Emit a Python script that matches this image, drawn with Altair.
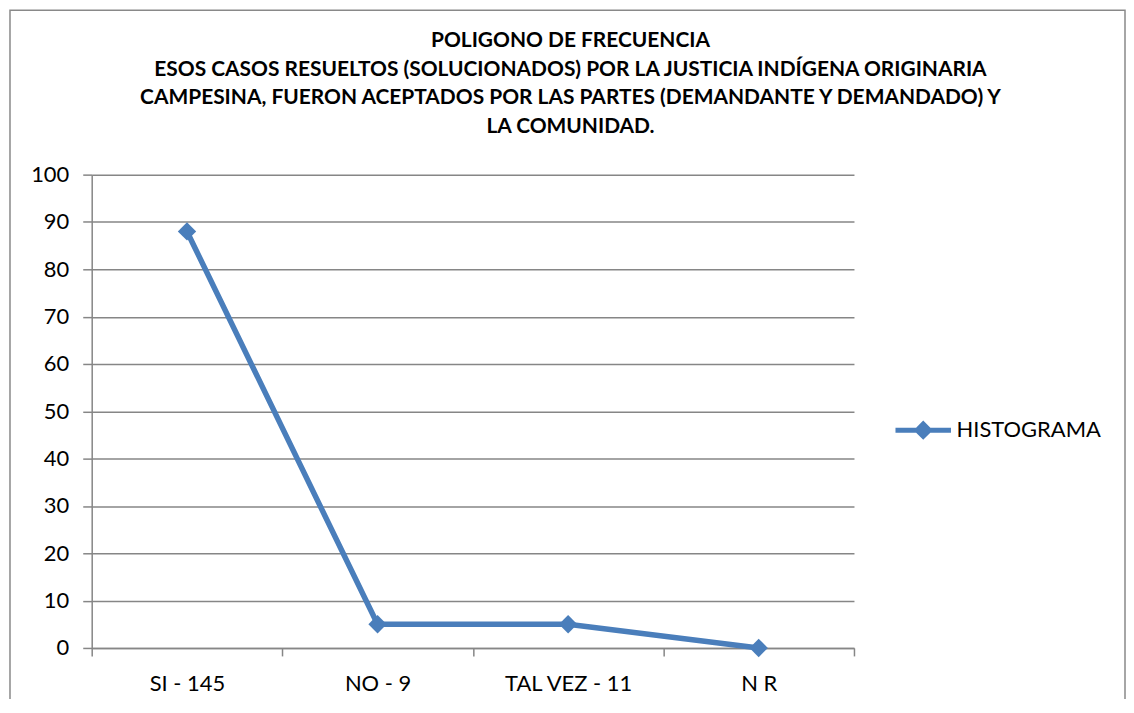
import altair as alt
import pandas as pd

categories = ["SI - 145", "NO - 9", "TAL VEZ - 11", "N R"]
values = [88, 5, 5, 0]
series_name = "HISTOGRAMA"
y_ticks = [0, 10, 20, 30, 40, 50, 60, 70, 80, 90, 100]
title_lines = [
    "POLIGONO DE FRECUENCIA",
    "ESOS CASOS RESUELTOS (SOLUCIONADOS) POR LA JUSTICIA INDÍGENA ORIGINARIA",
    "CAMPESINA, FUERON ACEPTADOS POR LAS PARTES (DEMANDANTE Y DEMANDADO) Y",
    "LA COMUNIDAD.",
]

df = pd.DataFrame({"cat": categories, "val": values, "serie": [series_name] * len(categories)})

FONT = "Lato"
GRAY = "#868686"
BLUE = "#4A7EBB"

legend_symbol = "M-1,0 L1,0 M-0.22,0 L0,-0.22 L0.22,0 L0,0.22 Z"

line = alt.Chart(df).mark_line(
    strokeWidth=5.5,
    point=alt.OverlayMarkDef(shape="diamond", size=340, filled=True, color=BLUE),
).encode(
    x=alt.X("cat:N", sort=categories, bandPosition=0.5,
            scale=alt.Scale(type="band", paddingInner=0, paddingOuter=0),
            axis=alt.Axis(title=None, labelAngle=0, tickBand="extent", grid=False,
                          tickSize=8, labelPadding=18, labelFontSize=22, labelFont=FONT,
                          labelColor="black", domainColor=GRAY, tickColor=GRAY,
                          domainWidth=1.5, tickWidth=1.5)),
    y=alt.Y("val:Q", scale=alt.Scale(domain=[0, 100]),
            axis=alt.Axis(title=None, values=y_ticks, grid=True, gridColor=GRAY, gridWidth=1.5,
                          tickSize=9, labelPadding=14, labelFontSize=22, labelFont=FONT,
                          labelColor="black", domainColor=GRAY, tickColor=GRAY,
                          domainWidth=1.5, tickWidth=1.5)),
    color=alt.Color("serie:N", scale=alt.Scale(range=[BLUE]),
                    legend=alt.Legend(title=None, orient="none", legendX=804, legendY=226,
                                      symbolType=legend_symbol, symbolSize=3100,
                                      symbolStrokeWidth=5, symbolFillColor=BLUE,
                                      symbolStrokeColor=BLUE,
                                      labelFont=FONT, labelFontSize=22, labelColor="black",
                                      labelOffset=3)),
)

border = alt.Chart(pd.DataFrame({"a": [0]})).mark_rect(
    fillOpacity=0, stroke="#898989", strokeWidth=1.5
).encode(
    x=alt.value(-82), x2=alt.value(1037), y=alt.value(-165), y2=alt.value(600)
)

chart = alt.layer(border, line).properties(
    width=765,
    height=475,
    padding={"left": 84, "top": 166, "right": 273, "bottom": 50},
    autosize=alt.AutoSizeParams(type="none"),
    title=alt.TitleParams(text=title_lines, anchor="middle", frame="group", dx=98,
                          font=FONT, fontSize=21, fontWeight="bold", color="black",
                          lineHeight=28.7, offset=0, dy=128),
).configure_view(stroke=None)

chart.save("out.html", embed_options={"renderer": "svg", "actions": False})
